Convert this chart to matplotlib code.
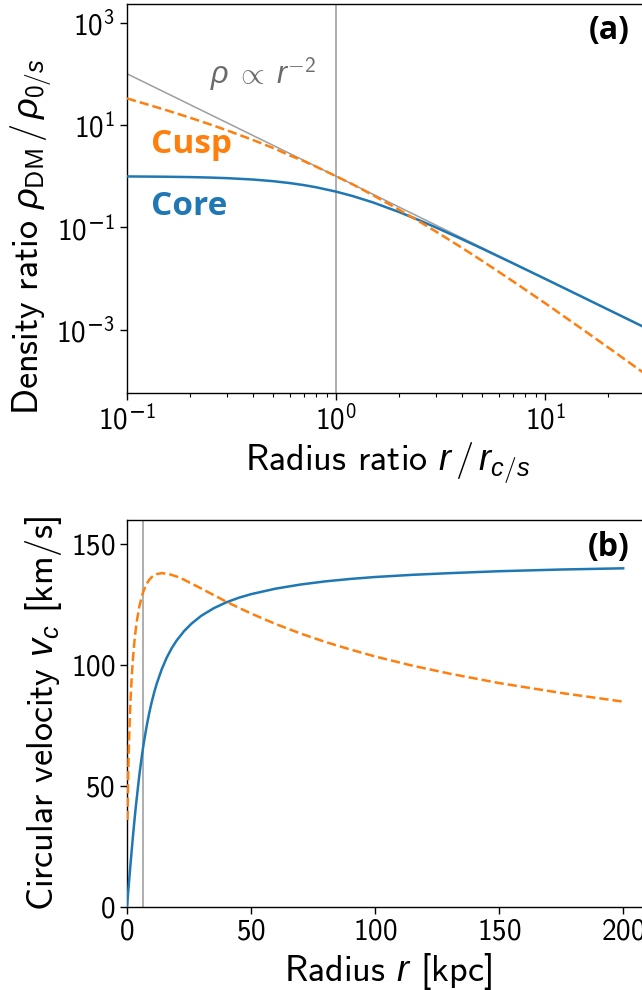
import math
import matplotlib
matplotlib.use("Agg")
import matplotlib.pyplot as plt
from matplotlib.ticker import NullLocator, FixedLocator, FuncFormatter

plt.rcParams['font.family'] = ['cmss10', 'DejaVu Sans']
plt.rcParams['mathtext.fontset'] = 'custom'
plt.rcParams['mathtext.rm'] = 'cmss10'
plt.rcParams['mathtext.sf'] = 'cmss10'
plt.rcParams['mathtext.it'] = 'Liberation Sans:italic'
plt.rcParams['mathtext.bf'] = 'DejaVu Sans:bold'
plt.rcParams['mathtext.tt'] = 'DejaVu Sans'
plt.rcParams['mathtext.fallback'] = 'cm'
plt.rcParams['axes.formatter.use_mathtext'] = True
plt.rcParams['axes.linewidth'] = 1.0
plt.rcParams['xtick.major.size'] = 5
plt.rcParams['ytick.major.size'] = 5
plt.rcParams['xtick.minor.size'] = 2.8
plt.rcParams['xtick.major.width'] = 1.0
plt.rcParams['ytick.major.width'] = 1.0
plt.rcParams['xtick.minor.width'] = 0.8

# ---------- Panel (a): density profiles ----------
ratio = [0.1, 0.15, 0.2, 0.25, 0.3, 0.4, 0.5, 0.6, 0.7, 0.8, 1.0, 1.2, 1.5, 2.0,
         2.5, 3.0, 4.0, 5.0, 7.0, 10.0, 15.0, 20.0, 31.0]
core_density = [0.990, 0.978, 0.962, 0.941, 0.917, 0.862, 0.800, 0.735, 0.671, 0.610,
                0.500, 0.410, 0.308, 0.200, 0.138, 0.100, 0.0588, 0.0385, 0.0200,
                0.0099, 0.00442, 0.00249, 0.00104]
cusp_density = [33.06, 20.16, 13.89, 10.24, 7.89, 5.10, 3.556, 2.551, 1.977, 1.543,
                1.000, 0.6944, 0.4267, 0.2222, 0.1306, 0.0833, 0.0400, 0.0222,
                0.00893, 0.00331, 0.00104, 4.54e-4, 1.26e-4]
powerlaw_x = [0.1, 31.0]
powerlaw_y = [100.0, 1.04e-3]

# ---------- Panel (b): rotation curves ----------
core_r = [0, 0.5, 1, 1.5, 2, 2.5, 3, 3.5, 4, 5, 6, 6.6, 7, 8, 9, 10, 11, 12, 14, 16,
          18, 20, 23, 26, 30, 35, 40, 45, 50, 60, 70, 80, 90, 100, 115, 130, 150,
          175, 200]
core_v = [0, 6.3, 12.5, 18.6, 24.5, 30.2, 35.6, 40.8, 45.5, 54.6, 62.4, 66.6, 69.2,
          75.1, 80.3, 84.8, 88.8, 92.3, 98.2, 103.0, 106.9, 110.1, 114.0, 117.1,
          120.4, 123.5, 125.9, 127.8, 129.3, 131.6, 133.3, 134.6, 135.6, 136.4,
          137.3, 138.0, 138.8, 139.5, 140.0]
cusp_r = [0.2, 0.3, 0.5, 0.7, 1, 1.5, 2, 2.5, 3, 3.5, 4, 5, 6, 6.6, 7, 8, 9, 10, 11,
          12, 14, 17, 20, 23, 25, 30, 35, 40, 45, 50, 60, 70, 80, 90, 100, 115, 130,
          150, 175, 200]
cusp_v = [35.8, 43.4, 55.0, 63.9, 74.3, 87.2, 96.7, 104.0, 109.8, 114.5, 118.4,
          124.3, 128.5, 130.4, 131.5, 133.7, 135.3, 136.4, 137.1, 137.6, 138.0,
          137.6, 136.6, 135.3, 134.2, 131.6, 128.9, 126.2, 123.7, 121.3, 116.9,
          113.0, 109.5, 106.4, 103.5, 99.7, 96.4, 92.5, 88.4, 84.8]
scale_radius = 6.6

blue = '#1f77b4'
orange = '#ff7f0e'


def pow10_label(value, pos):
    exp = int(round(math.log10(value)))
    if exp < 0:
        return r'$\mathdefault{10^{\mathtt{-}%d}}$' % (-exp)
    return r'$\mathdefault{10^{%d}}$' % exp


W, H = 642, 990
fig = plt.figure(figsize=(W / 100, H / 100), dpi=100)

def px_axes(left, top, right, bottom):
    return fig.add_axes([left / W, 1 - bottom / H, (right - left) / W, (bottom - top) / H])

ax1 = px_axes(127, 4, 648, 392.5)
ax1.plot(powerlaw_x, powerlaw_y, color='0.62', lw=1.1, zorder=1)
ax1.axvline(1.0, color='0.6', lw=1.1, zorder=1)
ax1.plot(ratio, core_density, color=blue, lw=1.8, zorder=3)
ax1.plot(ratio, cusp_density, color=orange, lw=1.8, ls='--', zorder=3)
ax1.set_xscale('log')
ax1.set_yscale('log')
ax1.set_xlim(0.1, 31)
ax1.set_ylim(6.0e-5, 2.3e3)
ax1.xaxis.set_major_locator(FixedLocator([0.1, 1.0, 10.0]))
ax1.yaxis.set_major_locator(FixedLocator([1e-3, 1e-1, 1e1, 1e3]))
ax1.yaxis.set_minor_locator(NullLocator())
ax1.xaxis.set_major_formatter(FuncFormatter(pow10_label))
ax1.yaxis.set_major_formatter(FuncFormatter(pow10_label))
ax1.tick_params(labelsize=21)
ax1.set_xlabel(r'Radius ratio $r\,/\,r_{c/s}$', fontsize=26, labelpad=4)
ax1.set_ylabel(r'Density ratio $\rho_{\mathrm{DM}}\,/\,\rho_{0/s}$', fontsize=26)
ax1.yaxis.set_label_coords(-0.14, 0.40)
ax1.text(0.1297, 2.85, 'Cusp', color=orange, fontsize=24, fontweight='bold',
         family='Open Sans', va='baseline', ha='left')
ax1.text(0.1297, 0.175, 'Core', color=blue, fontsize=24, fontweight='bold',
         family='Open Sans', va='baseline', ha='left')
ax1.text(0.249, 60.7, r'$\rho\;\propto\;r^{-2}$', color='0.42', fontsize=22,
         va='baseline', ha='left')
ax1.text(0.965, 0.933, '(a)', transform=ax1.transAxes, fontsize=23,
         fontweight='bold', family='Open Sans', ha='right', va='center')

ax2 = px_axes(127, 520, 648, 906.5)
ax2.axvline(scale_radius, color='0.6', lw=1.1, zorder=1)
ax2.plot(core_r, core_v, color=blue, lw=1.8, zorder=3)
ax2.plot(cusp_r, cusp_v, color=orange, lw=1.8, ls='--', zorder=3)
ax2.set_xlim(0, 210)
ax2.set_ylim(0, 160)
ax2.set_xticks([0, 50, 100, 150, 200])
ax2.set_yticks([0, 50, 100, 150])
ax2.tick_params(labelsize=21)
ax2.set_xlabel(r'Radius $r$ [kpc]', fontsize=26, labelpad=4)
ax2.set_ylabel(r'Circular velocity $v_c$ [km/s]', fontsize=26)
ax2.yaxis.set_label_coords(-0.12, 0.5)
ax2.text(0.965, 0.93, '(b)', transform=ax2.transAxes, fontsize=23,
         fontweight='bold', family='Open Sans', ha='right', va='center')

fig.savefig('out.png', dpi=100)
